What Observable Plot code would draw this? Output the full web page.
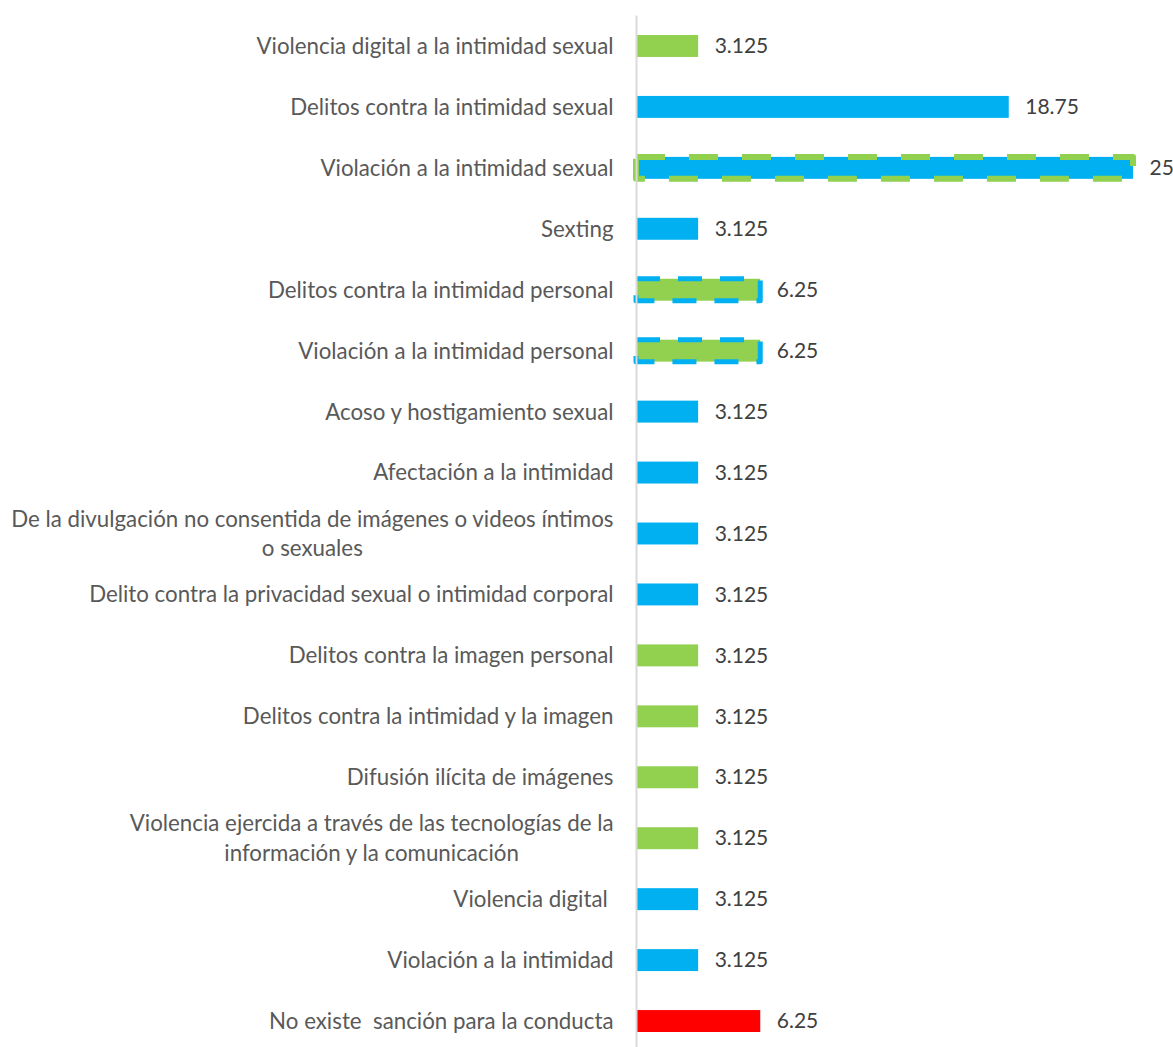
<!DOCTYPE html>
<html>
<head>
<meta charset="utf-8">
<script src="https://cdn.jsdelivr.net/npm/d3@7"></script>
<script src="https://cdn.jsdelivr.net/npm/@observablehq/plot@0.6"></script>
<style>
  html, body { margin: 0; padding: 0; background: #fff; overflow: hidden; }
  #chart svg text { white-space: pre; }
</style>
</head>
<body>
<div id="chart"></div>
<script>
const categories = [
  "Violencia digital a la intimidad sexual",
  "Delitos contra la intimidad sexual",
  "Violación a la intimidad sexual",
  "Sexting",
  "Delitos contra la intimidad personal",
  "Violación a la intimidad personal",
  "Acoso y hostigamiento sexual",
  "Afectación a la intimidad",
  "De la divulgación no consentida de imágenes o videos íntimos\no sexuales",
  "Delito contra la privacidad sexual o intimidad corporal",
  "Delitos contra la imagen personal",
  "Delitos contra la intimidad y la imagen",
  "Difusión ilícita de imágenes",
  "Violencia ejercida a través de las tecnologías de la\ninformación y la comunicación",
  "Violencia digital ",
  "Violación a la intimidad",
  "No existe  sanción para la conducta"
];
const values = [3.125, 18.75, 25, 3.125, 6.25, 6.25, 3.125, 3.125, 3.125, 3.125, 3.125, 3.125, 3.125, 3.125, 3.125, 3.125, 6.25];
const fillGroup = ["verde", "azul", "azul", "azul", "verde", "verde", "azul", "azul", "azul", "azul", "verde", "verde", "verde", "verde", "azul", "azul", "rojo"];
const outlineGroup = [null, null, "verde", null, "azul", "azul", null, null, null, null, null, null, null, null, null, null, null];
const groupNames = ["verde", "azul", "rojo"];
const groupColors = ["#92D050", "#00B0F0", "#FF0000"];

const data = categories.map((c, i) => ({category: c, value: values[i], fill: fillGroup[i], outline: outlineGroup[i]}));

const chart = Plot.plot({
  width: 1173,
  height: 1047,
  marginLeft: 636,
  marginRight: 40,
  marginTop: 15.5,
  marginBottom: 0,
  style: {fontFamily: "Lato, sans-serif", fontSize: "22px", background: "#fff"},
  x: {domain: [0, 25], axis: null},
  y: {domain: categories, range: [15.5, 1051.5], round: false, paddingInner: 0.64, paddingOuter: 0.32, axis: null},
  color: {domain: groupNames, range: groupColors},
  marks: [
    Plot.barX(data, {x: "value", y: "category", fill: "fill"}),
    Plot.barX(data.filter(d => d.outline === "verde"), {x: "value", y: "category", fill: "none", stroke: "outline", strokeWidth: 6, strokeDasharray: "29,24", strokeLinejoin: "round"}),
    Plot.barX(data.filter(d => d.outline === "azul"), {x: "value", y: "category", fill: "none", stroke: "outline", strokeWidth: 5, strokeDasharray: "24,18", strokeLinejoin: "round"}),
    Plot.ruleX([0], {stroke: "#d9d9d9", strokeWidth: 2}),
    Plot.text(data, {x: "value", y: "category", text: d => String(d.value), textAnchor: "start", dx: 16, fill: "#404040", fontSize: 21}),
    Plot.text(data, {x: 0, y: "category", text: "category", textAnchor: "end", dx: -23, dy: -2, fill: "#595959", fontSize: 22.3, lineHeight: 1.32})
  ]
});

document.getElementById("chart").appendChild(chart);

// center multi-line labels within their block (right edge fixed)
d3.select(chart).selectAll("text").each(function() {
  const tspans = this.querySelectorAll("tspan");
  if (tspans.length > 1) {
    let w = 0;
    tspans.forEach(t => { w = Math.max(w, t.getComputedTextLength()); });
    this.setAttribute("text-anchor", "middle");
    tspans.forEach(t => t.setAttribute("x", -w / 2));
  }
});
</script>
</body>
</html>
